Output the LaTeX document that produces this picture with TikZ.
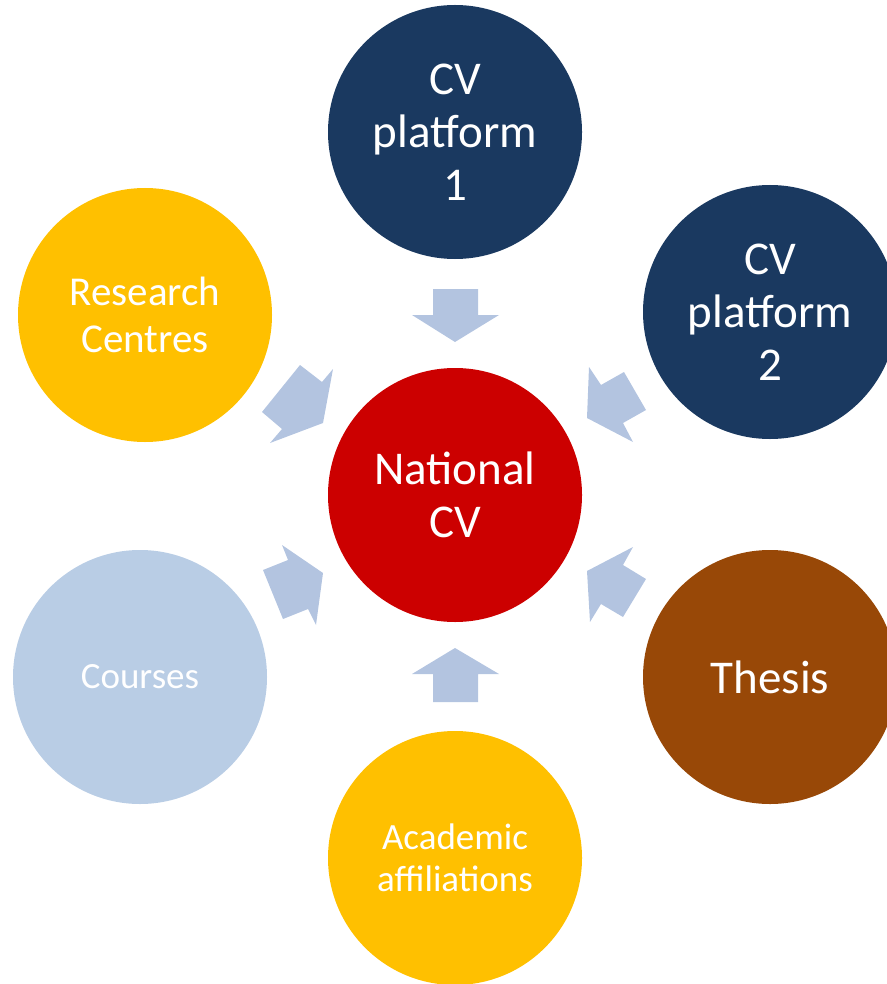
\documentclass[tikz,border=0pt]{standalone}
\usepackage{fontspec}
\setmainfont{Carlito}
\definecolor{navy}{HTML}{1A3960}
\definecolor{natred}{HTML}{CC0000}
\definecolor{gold}{HTML}{FFC000}
\definecolor{brown}{HTML}{984807}
\definecolor{paleblue}{HTML}{B9CDE5}
\definecolor{arrowblue}{HTML}{B3C4E0}
\begin{document}
\begin{tikzpicture}[x=1pt,y=-1pt,
  bubble/.style={circle,minimum size=254pt,inner sep=0pt,text=white,align=center},
  big/.style={font=\fontsize{47}{53}\selectfont},
  mid/.style={font=\fontsize{41}{47}\selectfont},
  small/.style={font=\fontsize{37}{42}\selectfont},
  blockarrow/.style={fill=arrowblue,draw=none}]
\useasboundingbox (0,0) rectangle (886,984);
\node[bubble,big,fill=natred] (nat) at (455,495) {National\\CV};
\node[bubble,big,fill=navy] (cv1) at (455,132) {CV\\platform\\1};
\node[bubble,big,fill=navy] (cv2) at (770,312) {CV\\platform\\2};
\node[bubble,mid,fill=gold] (res) at (145,315) {Research\\Centres};
\node[bubble,small,fill=paleblue] (crs) at (140,677) {Courses};
\node[bubble,big,fill=brown] (the) at (770,677) {Thesis};
\node[bubble,small,fill=gold] (aca) at (455,858) {Academic\\affiliations};
% arrows toward centre
\fill[blockarrow] (433,289) -- (478,289) -- (478,315) -- (499,315) -- (455,342) -- (412,315) -- (433,315) -- cycle;
\fill[blockarrow] (433,702) -- (478,702) -- (478,674) -- (499,674) -- (455,648) -- (412,674) -- (433,674) -- cycle;
\fill[blockarrow] (300,365) -- (322,382) -- (333,369) -- (323,423) -- (270,443) -- (282,429) -- (262,412) -- cycle;
\fill[blockarrow] (624,372) -- (601,385) -- (589,367) -- (587,418) -- (633,442) -- (623,423) -- (646,410) -- cycle;
\fill[blockarrow] (263,570) -- (288,560) -- (282,545) -- (323,573) -- (316,625) -- (308,609) -- (283,619) -- cycle;
\fill[blockarrow] (646,579) -- (623,565) -- (633,547) -- (587,571) -- (590,622) -- (601,604) -- (623,617) -- cycle;
\end{tikzpicture}
\end{document}
